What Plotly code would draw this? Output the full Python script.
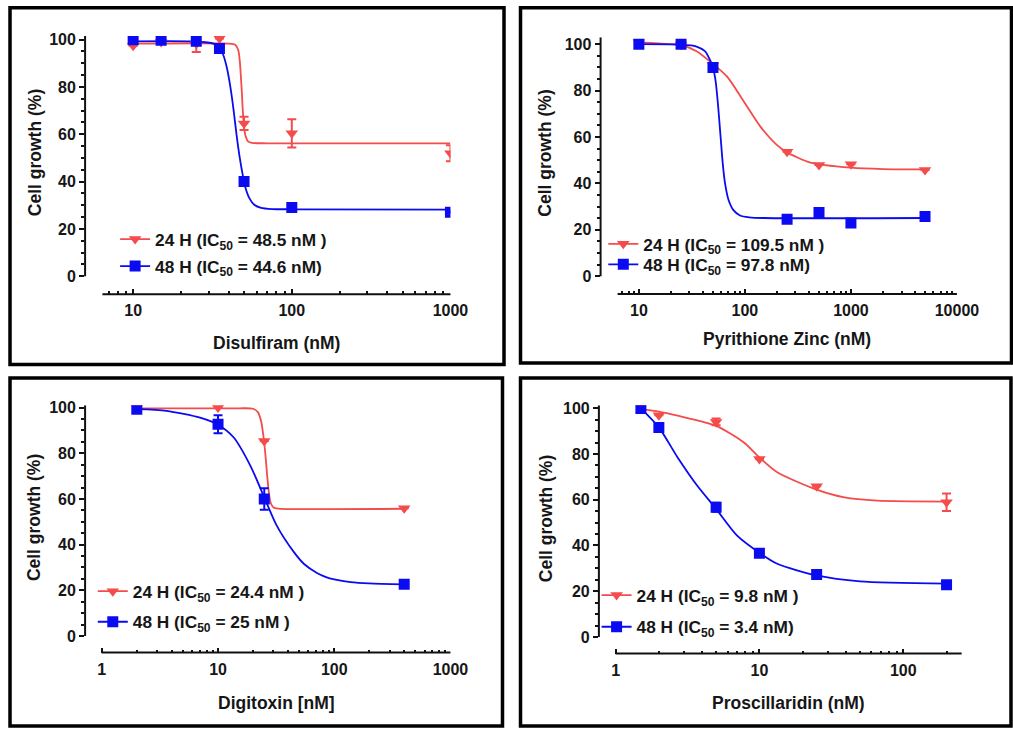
import numpy as np
import plotly.graph_objects as go

W, H = 1013, 729          # reference picture size (coordinates below are in these pixels)
FIG_W = 1036              # layout width (renderer squeezes horizontally by ~0.978)
RED = '#F44B4B'
BLUE = '#0B0BF2'
TXT = '#161616'
FONT = 'Liberation Sans, Arial, Helvetica, sans-serif'

# ---------------- data ----------------
# Panel 1: Disulfiram
dis_x = [10, 15, 25, 35, 50, 100, 1000]
dis_24_y = [97.4, 99.0, 98.3, 100.5, 64.6, 60.4, 52.0]
dis_24_err = [0, 0, 3.5, 0, 2.8, 6.0, 3.4]
dis_48_y = [100.0, 99.7, 99.3, 96.2, 40.0, 29.1, 27.1]
dis_48_err = [0, 0, 0, 0, 1.5, 0, 0]
dis_fit24_x = [10, 40, 44, 46, 47, 48, 48.5, 49, 50, 51, 53, 56, 70, 1000]
dis_fit24_y = [98.3, 98.3, 97.8, 95.5, 91, 82, 77, 71, 63, 59.5, 57, 56.4, 56.2, 56.2]
dis_fit48_x = [10, 25, 32, 35, 37, 39, 41, 43, 45, 47, 49, 51, 54, 58, 64, 75, 100, 1000]
dis_fit48_y = [99.3, 99.2, 98.3, 96.5, 93.5, 88, 80, 70, 59, 50, 43, 37.5, 33, 30.2, 28.9, 28.4, 28.3, 28.2]

# Panel 2: Pyrithione Zinc
pz_x = [10, 25, 50, 250, 500, 1000, 5000]
pz_24_y = [100.8, 99.8, 91.0, 53.7, 48.0, 48.3, 45.8]
pz_24_err = [0, 0, 0, 0, 0, 0, 0]
pz_48_y = [100.0, 100.0, 90.0, 24.6, 27.5, 22.9, 25.8]
pz_48_err = [0, 0, 0, 0, 1.5, 0, 0]
pz_fit24_x = [10, 15, 25, 35, 50, 68, 98, 140, 200, 250, 415, 1000, 2000, 5000]
pz_fit24_y = [100.8, 100.4, 99.6, 97, 91.5, 86, 75.2, 64.5, 56.6, 53.4, 49, 46.8, 46.2, 46.1]
pz_fit48_x = [10, 25, 35, 42, 46, 50, 53, 56, 59, 62, 65, 70, 78, 90, 110, 150, 5000]
pz_fit48_y = [100, 99.8, 99, 97, 94, 90, 84, 73, 60, 48, 40, 33, 28.5, 26.2, 25.4, 25.1, 25.1]

# Panel 3: Digitoxin
dig_x = [2, 10, 25, 400]
dig_24_y = [100.0, 100.0, 85.4, 55.9]
dig_24_err = [0, 0, 0, 0]
dig_48_y = [99.3, 92.7, 60.0, 22.6]
dig_48_err = [0, 3.9, 4.7, 0]
dig_fit24_x = [2, 15, 20, 22, 23.5, 24.5, 25.5, 26.5, 27.5, 28.5, 30, 33, 400]
dig_fit24_y = [99.7, 99.7, 99.5, 98, 94, 88, 80, 70, 62, 58, 56.3, 55.8, 55.7]
dig_fit48_x = [2, 3.6, 7, 10, 13.6, 19, 25, 32, 45, 55, 71, 85, 100, 138, 200, 400]
dig_fit48_y = [99.3, 98.6, 95.6, 92.5, 87, 74.5, 60.7, 48.3, 36.7, 31.5, 27.6, 25.8, 24.8, 23.6, 23.0, 22.6]

# Panel 4: Proscillaridin
pro_x = [1.5, 2, 5, 10, 25, 200]
pro_24_y = [100.5, 96.9, 94.0, 77.8, 65.9, 58.9]
pro_24_err = [0, 0, 1.5, 0, 0, 3.8]
pro_48_y = [99.9, 91.6, 56.7, 36.6, 27.3, 22.8]
pro_48_err = [0, 0, 2.0, 0, 0, 0]
pro_fit24_x = [1.5, 2, 2.7, 5, 7.8, 10, 13.3, 25, 39, 66, 200]
pro_fit24_y = [99.6, 98.5, 96.7, 92.3, 85, 78.5, 72, 64.4, 61, 59.6, 59.2]
pro_fit48_x = [1.5, 2, 2.7, 3.7, 5, 7, 10, 13.3, 25, 50, 200]
pro_fit48_y = [99.9, 91.6, 78.5, 66.1, 56, 44.3, 36.8, 32, 26.9, 24.3, 23.3]

x_titles = ['Disulfiram (nM)', 'Pyrithione Zinc (nM)', 'Digitoxin [nM]', 'Proscillaridin (nM)']
y_title = 'Cell growth (%)'
leg24 = ['24 H (IC<sub>50</sub> = 48.5 nM )', '24 H (IC<sub>50</sub> = 109.5 nM )',
         '24 H (IC<sub>50</sub> = 24.4 nM )', '24 H (IC<sub>50</sub> = 9.8 nM )']
leg48 = ['48 H (IC<sub>50</sub> = 44.6 nM)', '48 H (IC<sub>50</sub> = 97.8 nM)',
         '48 H (IC<sub>50</sub> = 25 nM )', '48 H (IC<sub>50</sub> = 3.4 nM)']
x_major = [[10, 100, 1000], [10, 100, 1000, 10000], [1, 10, 100, 1000], [1, 10, 100]]
y_major = [0, 20, 40, 60, 80, 100]

series = [
    (dis_x, dis_24_y, dis_24_err, dis_48_y, dis_48_err, dis_fit24_x, dis_fit24_y, dis_fit48_x, dis_fit48_y),
    (pz_x, pz_24_y, pz_24_err, pz_48_y, pz_48_err, pz_fit24_x, pz_fit24_y, pz_fit48_x, pz_fit48_y),
    (dig_x, dig_24_y, dig_24_err, dig_48_y, dig_48_err, dig_fit24_x, dig_fit24_y, dig_fit48_x, dig_fit48_y),
    (pro_x, pro_24_y, pro_24_err, pro_48_y, pro_48_err, pro_fit24_x, pro_fit24_y, pro_fit48_x, pro_fit48_y),
]

# ---------------- layout geometry (pixels of the reference) ----------------
geo = [
    dict(l=85, r=450, xr=(0.697, 3.0), y100=37.7, y0=275.0, ytop=101.5, xline=293.0, xstart=6.4,
         box=(10, 2.5, 503.5, 363.5), xt=(276.5, 341.7), yt=(35, 151.5), leg=(134, 238, 265)),
    dict(l=600, r=956, xr=(0.639, 4.0), y100=42.3, y0=275.0, ytop=103.0, xline=292.7, xstart=6.3,
         box=(520, 2.5, 1010.5, 362), xt=(786.5, 338), yt=(545, 151.5), leg=(621.7, 242.7, 263.3)),
    dict(l=85, r=450, xr=(-0.144, 3.0), y100=406.7, y0=635.7, ytop=101.0, xline=652.3, xstart=1.0,
         box=(10, 377, 502, 726), xt=(276.5, 703), yt=(34, 517.5), leg=(111.7, 591, 621.7)),
    dict(l=598.3, r=960.7, xr=(-0.116, 2.406), y100=407.3, y0=636.7, ytop=101.3, xline=653.3, xstart=1.0,
         box=(520, 377, 1010, 726), xt=(787.5, 703), yt=(545, 518), leg=(615, 595, 626.7)),
]


def vy(y):
    """small vertical correction of the renderer (content sits a little low near the top)"""
    return y - 4.0 * (1 - y / H)


fig = go.Figure()
layout = dict(width=FIG_W, height=H, autosize=False, margin=dict(l=0, r=0, t=0, b=0, pad=0),
              paper_bgcolor='white', plot_bgcolor='white',
              font=dict(family=FONT, color=TXT, size=16, weight='bold'),
              showlegend=True, shapes=[], annotations=[])

for i, (g, s) in enumerate(zip(geo, series)):
    n = i + 1
    xa = 'x' if n == 1 else f'x{n}'
    ya = 'y' if n == 1 else f'y{n}'
    xk = 'xaxis' if n == 1 else f'xaxis{n}'
    yk = 'yaxis' if n == 1 else f'yaxis{n}'
    (xv, r24, e24, b48, e48, f24x, f24y, f48x, f48y) = s
    y100, y0, xline = vy(g['y100']), vy(g['y0']), vy(g['xline'])
    upp = (y0 - y100) / 100.0
    ybot = -(xline - y0) / upp
    ytop_px = y100 - (g['ytop'] - 100) * upp

    lo, hi = g['xr']
    minor = [m * 10 ** d for d in range(-1, 5) for m in range(2, 10)
             if g['xstart'] <= m * 10 ** d <= 10 ** hi + 1e-9]

    layout[xk] = dict(type='log', range=list(g['xr']), domain=[g['l'] / W, g['r'] / W],
                      anchor=ya, showgrid=False, zeroline=False, showline=False,
                      tickmode='array', tickvals=x_major[i], ticktext=[str(v) for v in x_major[i]],
                      ticks='inside', ticklen=5, tickwidth=2, tickcolor='#111',
                      minor=dict(tickmode='array', tickvals=minor, ticks='inside', ticklen=3,
                                 tickwidth=1.5, tickcolor='#111', showgrid=False),
                      ticklabelstandoff=5,
                      tickfont=dict(family=FONT, size=16, color=TXT, weight='bold'))
    layout[yk] = dict(range=[ybot, g['ytop']], domain=[1 - xline / H, 1 - ytop_px / H],
                      anchor=xa, showgrid=False, zeroline=False, showline=False,
                      tickmode='array', tickvals=y_major, ticks='outside', ticklen=5, tickwidth=2,
                      tickcolor='#111',
                      minor=dict(tickmode='array', tickvals=list(range(5, 100, 5)), ticks='outside',
                                 ticklen=3, tickwidth=1.5, tickcolor='#111', showgrid=False),
                      tickfont=dict(family=FONT, size=16, color=TXT, weight='bold'))

    # axis lines (detached, Prism style)
    layout['shapes'].append(dict(type='line', xref=f'{xa} domain', yref=ya, x0=0, x1=0,
                                 y0=0, y1=g['ytop'], line=dict(color='#111', width=2)))
    layout['shapes'].append(dict(type='line', xref=f'{xa} domain', yref=f'{ya} domain',
                                 x0=(np.log10(g['xstart']) - lo) / (hi - lo), x1=1, y0=0, y1=0,
                                 line=dict(color='#111', width=2)))
    # panel frame
    bx0, by0, bx1, by1 = g['box']
    by0 = max(vy(by0), 1.8)
    by1 = vy(by1)
    layout['shapes'].append(dict(type='rect', xref='paper', yref='paper',
                                 x0=bx0 / W, x1=bx1 / W, y0=1 - by1 / H, y1=1 - by0 / H,
                                 line=dict(color='black', width=3.5)))
    # axis titles
    layout['annotations'].append(dict(text=x_titles[i], xref='paper', yref='paper',
                                      x=g['xt'][0] / W, y=1 - vy(g['xt'][1]) / H, showarrow=False,
                                      xanchor='center', yanchor='middle',
                                      font=dict(family=FONT, size=17.5, color=TXT, weight='bold')))
    layout['annotations'].append(dict(text=y_title, xref='paper', yref='paper', textangle=-90,
                                      x=g['yt'][0] / W, y=1 - vy(g['yt'][1]) / H, showarrow=False,
                                      xanchor='center', yanchor='middle',
                                      font=dict(family=FONT, size=17.5, color=TXT, weight='bold')))

    # fitted curves
    fig.add_trace(go.Scatter(x=f24x, y=f24y, mode='lines', xaxis=xa, yaxis=ya, showlegend=False,
                             line=dict(color=RED, width=1.8, shape='spline', smoothing=0.7),
                             hoverinfo='skip'))
    fig.add_trace(go.Scatter(x=f48x, y=f48y, mode='lines', xaxis=xa, yaxis=ya, showlegend=False,
                             line=dict(color=BLUE, width=1.8, shape='spline', smoothing=0.7),
                             hoverinfo='skip'))
    # data points
    fig.add_trace(go.Scatter(x=xv, y=r24, mode='markers', xaxis=xa, yaxis=ya, showlegend=False,
                             marker=dict(symbol='triangle-down', size=11, color=RED),
                             error_y=dict(type='data', array=e24, visible=True, color=RED,
                                          thickness=2, width=4.5)))
    fig.add_trace(go.Scatter(x=xv, y=b48, mode='markers', xaxis=xa, yaxis=ya, showlegend=False,
                             marker=dict(symbol='square', size=11, color=BLUE),
                             error_y=dict(type='data', array=e48, visible=True, color=BLUE,
                                          thickness=2, width=4.5)))
    # legend entries
    lx, ly1, ly2 = g['leg']
    l1 = 'legend' if n == 1 else f'legend{2 * i + 1}'
    l2 = f'legend{2 * i + 2}'
    fig.add_trace(go.Scatter(x=[None], y=[None], mode='lines+markers', xaxis=xa, yaxis=ya,
                             name=leg24[i], legend=l1,
                             line=dict(color=RED, width=1.8),
                             marker=dict(symbol='triangle-down', size=11, color=RED)))
    fig.add_trace(go.Scatter(x=[None], y=[None], mode='lines+markers', xaxis=xa, yaxis=ya,
                             name=leg48[i], legend=l2,
                             line=dict(color=BLUE, width=1.8),
                             marker=dict(symbol='square', size=11, color=BLUE)))
    for key, yy in ((l1, ly1), (l2, ly2)):
        layout[key] = dict(x=(lx - 19) / W, y=1 - vy(yy) / H, xanchor='left', yanchor='middle',
                           bgcolor='rgba(0,0,0,0)', borderwidth=0, itemwidth=30,
                           font=dict(family=FONT, size=17.3, color=TXT, weight='bold'))

fig.update_layout(**layout)
fig.write_html('out.html',
               config={'displayModeBar': False, 'responsive': False},
               post_script="document.documentElement.style.margin='0';"
                           "document.body.style.margin='0';document.body.style.padding='0';"
                           "document.body.style.overflow='hidden';"
                           "document.documentElement.style.overflow='hidden';")
